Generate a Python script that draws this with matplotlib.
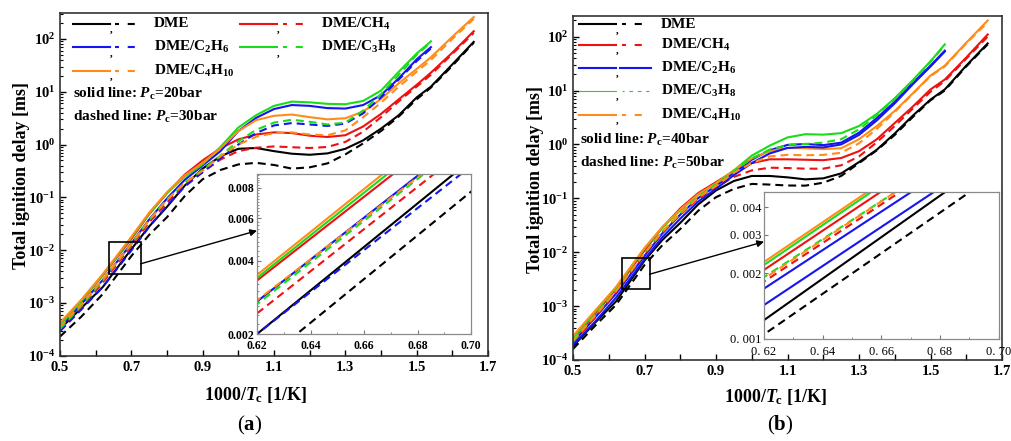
import numpy as np
import matplotlib.pyplot as plt
from matplotlib import ticker
from matplotlib.patches import Rectangle

plt.rcParams['font.family'] = 'Liberation Serif'
plt.rcParams['font.weight'] = 'bold'
plt.rcParams['axes.labelweight'] = 'bold'
plt.rcParams['mathtext.fontset'] = 'custom'
plt.rcParams['mathtext.rm'] = 'Liberation Serif:bold'
plt.rcParams['mathtext.it'] = 'Liberation Serif:italic:bold'
plt.rcParams['mathtext.bf'] = 'Liberation Serif:bold'

#%% ignition delays [ms] vs 1000/Tc
x = [0.5, 0.56, 0.62, 0.70, 0.75, 0.8, 0.85, 0.9, 0.95, 1.0, 1.05, 1.1, 1.15,
     1.2, 1.25, 1.3, 1.35, 1.4, 1.45, 1.5, 1.54, 1.6, 1.66]

# (a) Pc = 20 bar
a_dme_20   = [3.2e-4, 8.0e-4, 2.0e-3, 0.0104, 0.028, 0.066, 0.167, 0.35, 0.6, 0.83, 0.86, 0.75, 0.67, 0.64, 0.68, 0.83, 1.2, 2.0, 3.6, 7.8, 12.5, 33, 88]
a_ch4_20   = [3.9e-4, 1.1e-3, 3.32e-3, 0.0162, 0.048, 0.12, 0.27, 0.5, 0.85, 1.25, 1.55, 1.7, 1.65, 1.47, 1.39, 1.5, 2.2, 3.8, 7.2, 13.5, 23, 55, 140]
a_c2h6_20  = [3.4e-4, 9.5e-4, 2.72e-3, 0.0133, 0.038, 0.095, 0.215, 0.4, 0.75, 1.8, 3.2, 4.7, 5.6, 5.4, 4.9, 4.8, 5.6, 8.6, 18, 41, 70]
a_c3h8_20  = [3.7e-4, 1.1e-3, 3.4e-3, 0.0171, 0.049, 0.12, 0.247, 0.42, 0.9, 2.1, 3.6, 5.4, 6.5, 6.3, 5.9, 5.8, 6.7, 10.5, 24, 53, 90]
a_c4h10_20 = [4.2e-4, 1.15e-3, 3.5e-3, 0.0178, 0.051, 0.125, 0.26, 0.45, 0.85, 1.8, 2.9, 3.5, 3.7, 3.3, 3.0, 3.15, 4.2, 7.3, 14.5, 27, 45, 110, 260]
# (a) Pc = 30 bar
a_dme_30   = [2.3e-4, 5.5e-4, 1.47e-3, 0.0077, 0.0194, 0.042, 0.106, 0.22, 0.33, 0.42, 0.45, 0.41, 0.35, 0.37, 0.44, 0.65, 1.05, 1.8, 3.4, 7.2, 12, 31, 85]
a_ch4_30   = [3.0e-4, 8.0e-4, 2.43e-3, 0.012, 0.0335, 0.08, 0.17, 0.3, 0.52, 0.75, 0.87, 0.92, 0.89, 0.86, 0.9, 1.12, 1.75, 3.3, 6.6, 12.5, 21, 52, 130]
a_c2h6_30  = [2.9e-4, 7.5e-4, 2.0e-3, 0.0098, 0.0276, 0.07, 0.16, 0.3, 0.55, 1.0, 1.65, 2.3, 2.55, 2.4, 2.25, 2.5, 3.9, 7.8, 17, 38, 66]
a_c3h8_30  = [3.2e-4, 8.8e-4, 2.65e-3, 0.0129, 0.0368, 0.09, 0.19, 0.33, 0.62, 1.15, 1.9, 2.6, 2.95, 2.7, 2.4, 2.6, 4.4, 9.0, 21, 50, 86]
a_c4h10_30 = [3.5e-4, 9.5e-4, 2.75e-3, 0.013, 0.037, 0.09, 0.187, 0.32, 0.6, 1.0, 1.4, 1.65, 1.7, 1.55, 1.5, 1.85, 3.3, 6.2, 12.5, 24, 40, 100, 240]

# (b) Pc = 40 bar
b_dme_40   = [1.8e-4, 4.8e-4, 1.22e-3, 0.0070, 0.0169, 0.035, 0.077, 0.14, 0.21, 0.26, 0.26, 0.245, 0.225, 0.235, 0.29, 0.47, 0.8, 1.6, 3.4, 6.8, 10.5, 29, 75]
b_ch4_40   = [2.4e-4, 7.0e-4, 2.07e-3, 0.0108, 0.0286, 0.065, 0.125, 0.2, 0.32, 0.45, 0.53, 0.53, 0.52, 0.51, 0.56, 0.75, 1.25, 2.5, 5.0, 10.5, 16, 41, 110]
b_c2h6_40  = [2.1e-4, 6.0e-4, 1.7e-3, 0.0086, 0.0224, 0.05, 0.101, 0.17, 0.3, 0.52, 0.78, 0.98, 1.02, 0.97, 1.08, 1.65, 3.1, 6.2, 13.8, 29, 55]
b_c3h8_40  = [2.5e-4, 7.5e-4, 2.18e-3, 0.0117, 0.0286, 0.06, 0.117, 0.19, 0.33, 0.62, 0.95, 1.35, 1.55, 1.52, 1.62, 2.2, 3.7, 7.2, 15.5, 35, 72]
b_c4h10_40 = [2.8e-4, 8.0e-4, 2.25e-3, 0.012, 0.0295, 0.062, 0.119, 0.19, 0.33, 0.55, 0.75, 0.86, 0.85, 0.82, 0.85, 1.25, 2.2, 4.2, 8.8, 19, 29, 77, 200]
# (b) Pc = 50 bar
b_dme_50   = [1.6e-4, 4.2e-4, 1.05e-3, 0.0058, 0.0135, 0.027, 0.0586, 0.105, 0.15, 0.185, 0.18, 0.173, 0.172, 0.195, 0.26, 0.45, 0.78, 1.5, 3.2, 6.6, 10, 28, 72]
b_ch4_50   = [2.1e-4, 6.0e-4, 1.83e-3, 0.0093, 0.0233, 0.05, 0.098, 0.16, 0.25, 0.33, 0.37, 0.365, 0.355, 0.355, 0.41, 0.6, 1.1, 2.2, 4.6, 9.5, 15, 39, 100]
b_c2h6_50  = [1.9e-4, 5.0e-4, 1.43e-3, 0.0074, 0.019, 0.042, 0.087, 0.15, 0.27, 0.45, 0.68, 0.86, 0.9, 0.88, 1.0, 1.5, 2.8, 5.8, 13, 28, 53]
b_c3h8_50  = [2.2e-4, 6.5e-4, 1.92e-3, 0.0095, 0.0242, 0.053, 0.107, 0.18, 0.32, 0.55, 0.8, 0.98, 1.02, 1.08, 1.25, 1.9, 3.5, 7.0, 15, 34, 70]
b_c4h10_50 = [2.3e-4, 6.5e-4, 1.89e-3, 0.0096, 0.0241, 0.052, 0.103, 0.17, 0.3, 0.45, 0.6, 0.64, 0.63, 0.64, 0.7, 1.05, 1.95, 4.0, 8.6, 18.5, 28, 75, 185]

labels = ["DME", "DME/CH$_4$", "DME/C$_2$H$_6$", "DME/C$_3$H$_8$", "DME/C$_4$H$_{10}$"]
cols = ["black", "#ee1111", "#1515ee", "#18dd18", "#ff8c1a"]

DASH = (3.8, 2.4)
LW = 1.5

# (values, colour, dashed?) ; solid lines first, dashes go on top
curves_a = [(a_dme_20, cols[0], False), (a_ch4_20, cols[1], False),
            (a_c2h6_20, cols[2], False), (a_c3h8_20, cols[3], False),
            (a_c4h10_20, cols[4], False),
            (a_dme_30, cols[0], True), (a_ch4_30, cols[1], True),
            (a_c2h6_30, cols[2], True), (a_c3h8_30, cols[3], True),
            (a_c4h10_30, cols[4], True)]
curves_b = [(b_dme_40, cols[0], False), (b_ch4_40, cols[1], False),
            (b_c2h6_40, cols[2], False), (b_c3h8_40, cols[3], False),
            (b_c4h10_40, cols[4], False),
            (b_dme_50, cols[0], True), (b_ch4_50, cols[1], True),
            (b_c2h6_50, cols[2], False),  # drawn solid in the original plot
            (b_c3h8_50, cols[3], True), (b_c4h10_50, cols[4], True)]


def draw(ax, curves):
    for vals, c, dashed in curves:
        xs = x[:len(vals)]
        if dashed:
            ax.plot(xs, vals, color=c, lw=LW, ls=(0, DASH))
        else:
            ax.plot(xs, vals, color=c, lw=LW)


def style_main(ax, ytop):
    ax.set_yscale("log")
    ax.set_xlim(0.5, 1.7)
    ax.set_ylim(1e-4, ytop)
    ax.xaxis.set_major_locator(ticker.FixedLocator([0.5, 0.7, 0.9, 1.1, 1.3, 1.5, 1.7]))
    ax.xaxis.set_minor_locator(ticker.FixedLocator([0.6, 0.8, 1.0, 1.2, 1.4, 1.6]))
    ax.xaxis.set_major_formatter(ticker.FormatStrFormatter("%.1f"))
    ax.yaxis.set_major_locator(ticker.LogLocator(base=10, numticks=10))
    ax.yaxis.set_minor_locator(ticker.LogLocator(base=10, subs=np.arange(2, 10), numticks=10))
    ax.yaxis.set_major_formatter(ticker.FuncFormatter(lambda v, p: r"$10^{%d}$" % round(np.log10(v))))
    ax.tick_params(which="both", direction="in", top=False, right=False, labelsize=10.5)
    ax.tick_params(which="major", length=4, width=1)
    ax.tick_params(axis="x", which="minor", length=4, width=1)
    ax.tick_params(axis="y", which="minor", length=2, width=0.8)
    for s in ax.spines.values():
        s.set_linewidth(1.2)
        s.set_color("#333333")
    ax.set_ylabel("Total ignition delay [ms]", fontsize=13, fontweight="bold")
    ax.set_xlabel(r"1000/$T_\mathrm{c}$ [1/K]", fontsize=13, fontweight="bold")
    ax.xaxis.label.set_va("center")
    ax.yaxis.label.set_va("center")


def key(ax, yy, x0, c, text, second="dashed", lw=LW):
    tr = ax.transAxes
    ax.plot([x0, x0 + 0.087], [yy, yy], color=c, lw=lw, transform=tr, clip_on=False)
    ax.text(x0 + 0.090, yy - 0.006, ",", transform=tr, fontsize=8, ha="center", va="top")
    if second == "dashed":
        ax.plot([x0 + 0.099, x0 + 0.164], [yy, yy], color=c, lw=lw, ls=(1.5, (3.4, 4.2)),
                transform=tr, clip_on=False)
    else:
        ax.plot([x0 + 0.095, x0 + 0.168], [yy, yy], color=c, lw=lw, transform=tr, clip_on=False)
    ax.text(x0 + 0.190, yy, text, transform=tr, fontsize=11, va="center")


fig = plt.figure(figsize=(10.11, 4.41), dpi=100)

#%% panel (a)
ax1 = fig.add_axes([0.0593, 0.1934, 0.4234, 0.7771])
draw(ax1, curves_a)
style_main(ax1, 310)
ax1.xaxis.set_label_coords(0.458, -0.115)
ax1.yaxis.set_label_coords(-0.089, 0.527)

key(ax1, 0.968, 0.030, cols[0], labels[0])
key(ax1, 0.968, 0.421, cols[1], labels[1])
key(ax1, 0.900, 0.030, cols[2], labels[2])
key(ax1, 0.900, 0.421, cols[3], labels[3])
key(ax1, 0.832, 0.030, cols[4], labels[4])
ax1.text(0.030, 0.763, r"solid line: $P_\mathrm{c}$=20bar", transform=ax1.transAxes,
         fontsize=11, va="center")
ax1.text(0.030, 0.696, r"dashed line: $P_\mathrm{c}$=30bar", transform=ax1.transAxes,
         fontsize=11, va="center")

ax1.add_patch(Rectangle((0.637, 0.0036), 0.089, 0.0145 - 0.0036, fill=False,
                        ec="black", lw=1.2, zorder=5))

ins1 = fig.add_axes([0.2542, 0.2426, 0.2117, 0.3628])
draw(ins1, curves_a)
ins1.set_yscale("log")
ins1.set_xlim(0.62, 0.70)
ins1.set_ylim(0.002, 0.0091)
ins1.xaxis.set_major_locator(ticker.MultipleLocator(0.02))
ins1.xaxis.set_minor_locator(ticker.MultipleLocator(0.01))
ins1.xaxis.set_major_formatter(ticker.FormatStrFormatter("%.2f"))
ins1.yaxis.set_major_locator(ticker.FixedLocator([0.002, 0.004, 0.006, 0.008]))
ins1.yaxis.set_minor_locator(ticker.MultipleLocator(0.0002))
ins1.yaxis.set_major_formatter(ticker.FormatStrFormatter("%.3f"))
ins1.yaxis.set_minor_formatter(ticker.NullFormatter())
ins1.tick_params(which="both", direction="in", labelsize=8.5, top=False, right=False,
                 color="#777777", pad=2)
ins1.tick_params(axis="x", pad=4)
ins1.tick_params(which="major", length=3)
ins1.tick_params(which="minor", length=1.5)
for s in ins1.spines.values():
    s.set_color("#8a8a8a")
    s.set_linewidth(0.9)

ax1.annotate("", xy=(0.0, 0.646), xycoords=ins1.transAxes,
             xytext=(0.726, 0.0055), textcoords="data",
             arrowprops=dict(arrowstyle="-|>", color="black", lw=1.0, mutation_scale=10,
                             shrinkA=0, shrinkB=0))

fig.text(0.247, 0.036, r"($\mathbf{a}$)", fontsize=15, fontweight="normal",
         ha="center", va="center")

#%% panel (b)
ax2 = fig.add_axes([0.5668, 0.1837, 0.4243, 0.7807])
draw(ax2, curves_b)
style_main(ax2, 245)
ax2.xaxis.set_label_coords(0.473, -0.107)
ax2.yaxis.set_label_coords(-0.0886, 0.523)

key(ax2, 0.975, 0.014, cols[0], labels[0])
key(ax2, 0.916, 0.014, cols[1], labels[1])
key(ax2, 0.849, 0.014, cols[2], labels[2], second="solid")
key(ax2, 0.782, 0.014, cols[3], labels[3], lw=0.8)
key(ax2, 0.712, 0.014, cols[4], labels[4])
ax2.text(0.016, 0.639, r"solid line: $P_\mathrm{c}$=40bar", transform=ax2.transAxes,
         fontsize=11, va="center")
ax2.text(0.016, 0.572, r"dashed line: $P_\mathrm{c}$=50bar", transform=ax2.transAxes,
         fontsize=11, va="center")

ax2.add_patch(Rectangle((0.638, 0.00204), 0.076, 0.0079 - 0.00204, fill=False,
                        ec="black", lw=1.2, zorder=5))

ins2 = fig.add_axes([0.7557, 0.2313, 0.2321, 0.3333])
draw(ins2, curves_b)
ins2.set_yscale("log")
ins2.set_xlim(0.62, 0.70)
ins2.set_ylim(0.001, 0.0047)
ins2.xaxis.set_major_locator(ticker.MultipleLocator(0.02))
ins2.xaxis.set_minor_locator(ticker.MultipleLocator(0.01))
ins2.xaxis.set_major_formatter(ticker.FuncFormatter(lambda v, p: "0. %02d" % round(v * 100)))
ins2.yaxis.set_major_locator(ticker.FixedLocator([0.001, 0.002, 0.003, 0.004]))
ins2.yaxis.set_minor_locator(ticker.NullLocator())
ins2.yaxis.set_major_formatter(ticker.FuncFormatter(lambda v, p: "0. %03d" % round(v * 1000)))
ins2.tick_params(which="both", direction="in", labelsize=9, top=False, right=False,
                 color="#777777", pad=2)
ins2.tick_params(axis="x", pad=5)
ins2.tick_params(which="major", length=3)
ins2.tick_params(which="minor", length=1.5)
for lab in ins2.get_xticklabels() + ins2.get_yticklabels():
    lab.set_fontweight("normal")
for s in ins2.spines.values():
    s.set_color("#8a8a8a")
    s.set_linewidth(0.9)

ax2.annotate("", xy=(0.0, 0.662), xycoords=ins2.transAxes,
             xytext=(0.714, 0.0039), textcoords="data",
             arrowprops=dict(arrowstyle="-|>", color="black", lw=1.0, mutation_scale=10,
                             shrinkA=0, shrinkB=0))

fig.text(0.772, 0.036, r"($\mathbf{b}$)", fontsize=15, fontweight="normal",
         ha="center", va="center")

fig.savefig("out.png", dpi=100)
